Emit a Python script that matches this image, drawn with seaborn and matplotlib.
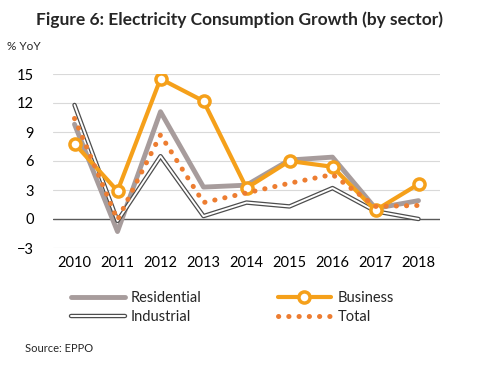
import numpy as np
import pandas as pd
import matplotlib
matplotlib.use("Agg")
import matplotlib.pyplot as plt
import matplotlib.patheffects as pe
import seaborn as sns

# values (% YoY)
years = ["2010", "2011", "2012", "2013", "2014", "2015", "2016", "2017", "2018"]
residential = [9.8, -1.3, 11.1, 3.3, 3.5, 6.1, 6.4, 1.1, 1.9]
business = [7.8, 2.9, 14.5, 12.2, 3.2, 6.0, 5.4, 0.9, 3.6]
industrial = [11.8, -0.2, 6.5, 0.3, 1.7, 1.3, 3.2, 0.8, 0.0]
total = [10.4, -0.1, 8.7, 1.7, 2.7, 3.7, 4.6, 1.3, 1.4]
y_ticks = [-3, 0, 3, 6, 9, 12, 15]

df = pd.DataFrame({
    "year": years,
    "Residential": residential,
    "Business": business,
    "Industrial": industrial,
    "Total": total,
})

sns.set_style("white")
plt.rcParams["font.family"] = ["Lato", "DejaVu Sans"]

fig = plt.figure(figsize=(4.79, 3.65), dpi=100)
ax = fig.add_axes([53 / 479, 1 - 248 / 365, (440 - 53) / 479, (248 - 74) / 365])

for y in y_ticks:
    if y == 0:
        ax.axhline(0, color="#595959", lw=1.0, zorder=1)
    else:
        ax.axhline(y, color="#d9d9d9", lw=0.8, zorder=0)

sns.lineplot(data=df, x="year", y="Residential", ax=ax, color="#a79c9c",
             lw=3.5, label="Residential", sort=False, zorder=2)
sns.lineplot(data=df, x="year", y="Industrial", ax=ax, color="white",
             lw=1.4, label="Industrial", sort=False, zorder=3,
             path_effects=[pe.Stroke(linewidth=3.2, foreground="#4d4d4d"), pe.Normal()])
sns.lineplot(data=df, x="year", y="Business", ax=ax, color="#f5a01a",
             lw=3, marker="o", markersize=8, markerfacecolor="white",
             markeredgecolor="#f5a01a", markeredgewidth=2.5,
             label="Business", sort=False, zorder=4)
sns.lineplot(data=df, x="year", y="Total", ax=ax, color="#ed7d31",
             lw=3.6, linestyle=(0, (0.05, 2.0)), dash_capstyle="round",
             label="Total", sort=False, zorder=5)

ax.set_xlim(-0.5, len(years) - 0.5)
ax.set_ylim(-3, 15)
ax.set_yticks(y_ticks)
ax.set_xlabel("")
ax.set_ylabel("")
ax.tick_params(axis="both", length=0, labelsize=10.5, colors="#000000")
ax.tick_params(axis="x", pad=6)
ax.tick_params(axis="y", pad=14)
sns.despine(ax=ax, left=True, bottom=True)
ax.legend_.remove()

handles, labels = ax.get_legend_handles_labels()
order = [labels.index(n) for n in ["Residential", "Industrial", "Business", "Total"]]
fig.legend([handles[i] for i in order], [labels[i] for i in order],
           ncol=2, loc="upper left", bbox_to_anchor=(58 / 479, 1 - 278 / 365),
           frameon=False, fontsize=10.5, handlelength=3.7, handletextpad=0.4,
           columnspacing=5.2, labelspacing=0.35)

fig.text(240 / 479, 1 - 20 / 365, "Figure 6: Electricity Consumption Growth (by sector)",
         ha="center", va="center", fontsize=12.5, fontweight="bold")
fig.text(7 / 479, 1 - 47 / 365, "% YoY", ha="left", va="center", fontsize=8.5)
fig.text(25 / 479, 1 - 349 / 365, "Source: EPPO", ha="left", va="center", fontsize=8)

fig.savefig("out.png", dpi=100)
